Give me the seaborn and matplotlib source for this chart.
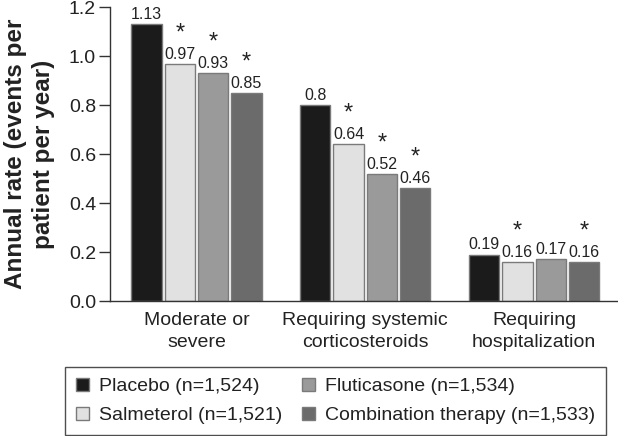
import numpy as np
import pandas as pd
import matplotlib
matplotlib.use('Agg')
import matplotlib.pyplot as plt
import seaborn as sns

# data
categories = ['Moderate or\nsevere', 'Requiring systemic\ncorticosteroids', 'Requiring\nhospitalization']
treatments = ['Placebo (n=1,524)', 'Salmeterol (n=1,521)', 'Fluticasone (n=1,534)', 'Combination therapy (n=1,533)']
placebo = [1.13, 0.80, 0.19]
salmeterol = [0.97, 0.64, 0.16]
fluticasone = [0.93, 0.52, 0.17]
combination = [0.85, 0.46, 0.16]
value_text = [['1.13', '0.8', '0.19'], ['0.97', '0.64', '0.16'], ['0.93', '0.52', '0.17'], ['0.85', '0.46', '0.16']]
# significance vs placebo (asterisk)
signif = [[False, False, False], [True, True, True], [True, True, False], [True, True, True]]

colors = ['#1b1b1b', '#e1e1e1', '#9a9a9a', '#6b6b6b']

df = pd.DataFrame({
    'category': categories * 4,
    'treatment': np.repeat(treatments, 3),
    'rate': placebo + salmeterol + fluticasone + combination,
})

sns.set_style('ticks')
plt.rcParams['font.family'] = ['Liberation Sans', 'DejaVu Sans']

fig = plt.figure(figsize=(6.18, 4.36), dpi=100)
ax = fig.add_axes([0.178, 0.3096, 0.82, 0.6735])

sns.barplot(data=df, x='category', y='rate', hue='treatment', hue_order=treatments,
            palette=colors, width=0.79, gap=0.09, edgecolor='#7a7a7a', linewidth=1,
            saturation=1, ax=ax, legend=True)

ax.set_ylim(0, 1.2)
ax.set_xlim(-0.512, 2.49)
ax.set_yticks(np.arange(0, 1.21, 0.2))
ax.set_yticklabels([f'{v:.1f}' for v in np.arange(0, 1.21, 0.2)])
ax.tick_params(axis='y', length=8, width=1, color='#333333', labelsize=14, labelcolor='#222222', pad=2)
ax.tick_params(axis='x', length=0, labelsize=14, labelcolor='#222222', pad=8)
for t in ax.get_xticklabels():
    t.set_linespacing(1.35)
for s in ['top', 'right']:
    ax.spines[s].set_visible(False)
for s in ['left', 'bottom']:
    ax.spines[s].set_color('#333333')
    ax.spines[s].set_linewidth(1)
ax.set_xlabel('')
ax.set_ylabel('Annual rate (events per\npatient per year)', fontsize=17.5, fontweight='bold',
              color='#222222', linespacing=1.25, labelpad=10)

for i, cont in enumerate(ax.containers):
    ax.bar_label(cont, labels=value_text[i], padding=1.5, fontsize=11.5, color='#222222')
    for j, bar in enumerate(cont):
        if signif[i][j]:
            ax.annotate('*', (bar.get_x() + bar.get_width() / 2, bar.get_height()),
                        xytext=(0, 14), textcoords='offset points', ha='center', va='bottom',
                        fontsize=17, color='#222222')

h, l = ax.get_legend_handles_labels()
ax.get_legend().remove()
leg = fig.legend(h, l, loc='lower left', bbox_to_anchor=(0.105, 0.002), ncol=2,
                 fontsize=14, frameon=True, fancybox=False, handlelength=0.7, handleheight=0.7,
                 handletextpad=0.5, columnspacing=1.0, labelspacing=0.6, borderpad=0.55,
                 borderaxespad=0)
leg.get_frame().set_edgecolor('#222222')
leg.get_frame().set_linewidth(1)
for t in leg.get_texts():
    t.set_color('#222222')

fig.savefig('out.png', dpi=100)
